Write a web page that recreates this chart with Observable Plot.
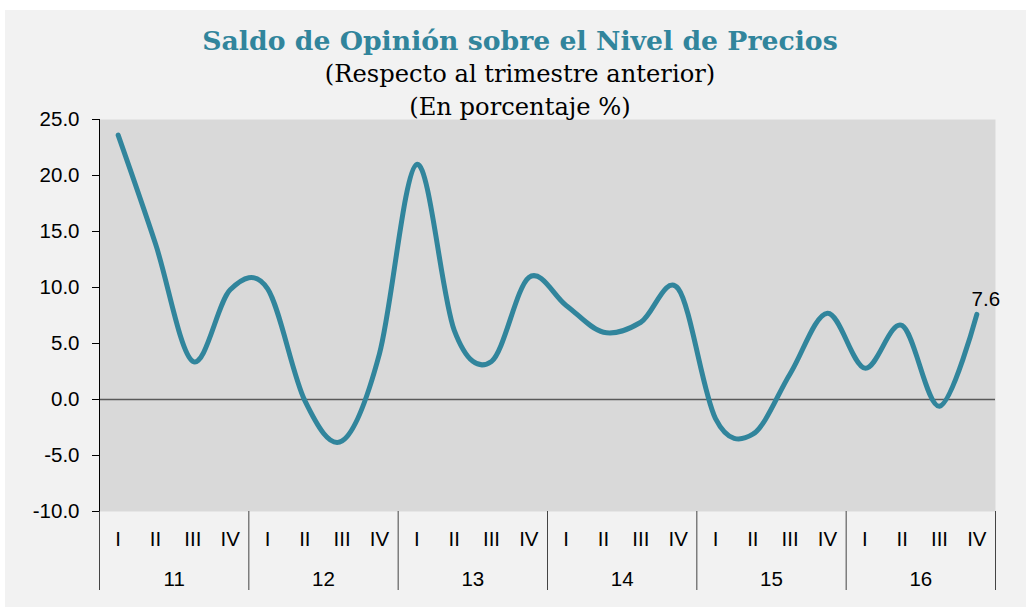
<!DOCTYPE html>
<html>
<head>
<meta charset="utf-8">
<script src="https://cdn.jsdelivr.net/npm/d3@7"></script>
<script src="https://cdn.jsdelivr.net/npm/@observablehq/plot@0.6"></script>
<style>
  html, body { margin: 0; padding: 0; background: #ffffff; }
  #bg { position: absolute; left: 5px; top: 10px; width: 1021px; height: 597px; background: #f2f2f2; }
  #title { position: absolute; left: 0; width: 1040px; top: 27px; text-align: center;
           font-family: "DejaVu Serif", serif; font-weight: bold; font-size: 26.7px; line-height: 28px; color: #31859c; }
  #subtitle { position: absolute; left: 0; width: 1040px; top: 58px; text-align: center;
           font-family: "DejaVu Serif", serif; font-size: 24.2px; line-height: 33.4px; color: #000; }
  #chart { position: absolute; left: 0; top: 105px; }
</style>
</head>
<body>
<div id="bg"></div>
<div id="chart"></div>
<div id="title">Saldo de Opinión sobre el Nivel de Precios</div>
<div id="subtitle">(Respecto al trimestre anterior)<br>(En porcentaje %)</div>
<script>
const quarterLabels = ["I", "II", "III", "IV"];
const yearLabels = ["11", "12", "13", "14", "15", "16"];
const values = [23.6, 13.9, 3.4, 9.8, 9.9, -0.1, -3.7, 4.1,
                21.0, 6.2, 3.4, 10.9, 8.4, 6.0, 6.9, 9.9,
                -1.7, -3.1, 2.3, 7.7, 2.8, 6.6, -0.6, 7.6];
const yTicks = [-10, -5, 0, 5, 10, 15, 20, 25];

const data = values.map((v, i) => ({pos: i + 0.5, v}));
const quarterTicks = data.map(d => d.pos);
const yearCenters = yearLabels.map((y, j) => j * 4 + 2);
const boundaries = d3.range(yearLabels.length + 1).map(j => j * 4);
const last = data[data.length - 1];

const chart = Plot.plot({
  width: 1026,
  height: 495,
  marginLeft: 99,
  marginRight: 31,
  marginTop: 14,
  marginBottom: 89,
  style: {background: "transparent", fontFamily: "'Liberation Sans', Arial, sans-serif", fontSize: "20px", color: "#000", overflow: "visible"},
  x: {domain: [0, values.length], axis: null},
  y: {domain: [-10, 25], axis: null},
  marks: [
    Plot.frame({fill: "#d9d9d9", stroke: "none"}),
    Plot.ruleY([0], {stroke: "#595959", strokeWidth: 1.3}),
    Plot.ruleX([0], {stroke: "#000"}),
    Plot.axisY({ticks: yTicks, label: null, tickFormat: d => d.toFixed(1), tickSize: 7, tickPadding: 13, fontSize: 20.5, stroke: "#000"}),
    Plot.axisX({ticks: boundaries, label: null, tickSize: 79, tickFormat: () => "", stroke: "#444"}),
    Plot.axisX({ticks: quarterTicks, label: null, tickSize: 0, tickPadding: 20, fontSize: 20.5, tickFormat: d => quarterLabels[Math.floor(d) % 4]}),
    Plot.axisX({ticks: yearCenters, label: null, tickSize: 0, tickPadding: 60, fontSize: 20.5, tickFormat: d => yearLabels[Math.floor(d / 4)]}),
    Plot.line(data, {x: "pos", y: "v", curve: "cardinal", stroke: "#31859c", strokeWidth: 5, strokeLinecap: "round", strokeLinejoin: "round"}),
    Plot.text([last], {x: "pos", y: "v", text: d => d.v.toFixed(1), dx: 9, dy: -15, fontSize: 20.5, fill: "#000"})
  ]
});
document.getElementById("chart").appendChild(chart);
</script>
</body>
</html>
